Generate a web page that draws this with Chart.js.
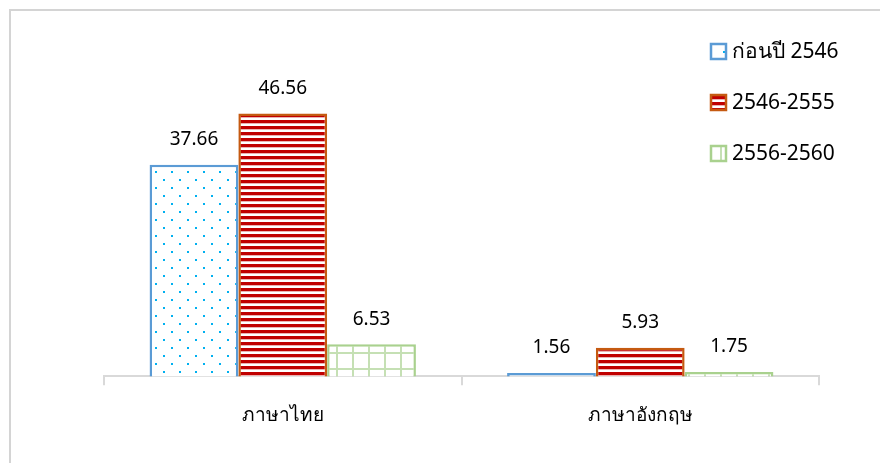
<!DOCTYPE html>
<html><head><meta charset="utf-8">
<script src="https://cdn.jsdelivr.net/npm/chart.js@4.4.1/dist/chart.umd.min.js"></script>
<style>
html,body{margin:0;padding:0;background:#fff;width:880px;height:463px;overflow:hidden;}
#frame{position:absolute;left:9px;top:9px;width:900px;height:500px;border-left:2px solid #d4d4d4;border-top:2px solid #d4d4d4;box-sizing:border-box;}
#wrap{position:absolute;left:0;top:0;width:880px;height:463px;}
</style></head>
<body>
<div id="frame"></div>
<div id="wrap"><canvas id="c" width="880" height="463"></canvas></div>
<script>
const categories = ["ภาษาไทย", "ภาษาอังกฤษ"];
const seriesNames = ["ก่อนปี 2546", "2546-2555", "2556-2560"];
const before2546 = [37.66, 1.56];
const y2546to2555 = [46.56, 5.93];
const y2556to2560 = [6.53, 1.75];

const FONT = "'Noto Sans', 'Open Sans', sans-serif";

function makePattern(kind){
  const t = document.createElement('canvas');
  const g = t.getContext('2d');
  if(kind==='dots'){
    t.width=16; t.height=16;
    g.fillStyle='#fff'; g.fillRect(0,0,16,16);
    g.fillStyle='#00B0F0';
    g.fillRect(3,3,2,2); g.fillRect(11,11,2,2);
  } else if(kind==='stripes'){
    t.width=6; t.height=6;
    g.fillStyle='#fff'; g.fillRect(0,0,6,6);
    g.fillStyle='#C00000'; g.fillRect(0,0,6,3.3);
  } else {
    t.width=16; t.height=16;
    g.fillStyle='#fff'; g.fillRect(0,0,16,16);
    g.fillStyle='#C5E0B4';
    g.fillRect(0,0,2,16); g.fillRect(0,0,16,2);
  }
  return g.createPattern(t,'repeat');
}

const ctx = document.getElementById('c').getContext('2d');
const patterns = [makePattern('dots'), makePattern('stripes'), makePattern('grid')];
const borders = ['#5B9BD5', '#C55A11', '#A9D18E'];
const seriesData = [before2546, y2546to2555, y2556to2560];

const valueLabels = {
  id:'valueLabels',
  afterDatasetsDraw(chart){
    const c = chart.ctx;
    c.save();
    c.font = "19px " + FONT;
    c.fillStyle = '#000';
    c.textAlign = 'center';
    c.textBaseline = 'middle';
    chart.data.datasets.forEach((ds,i)=>{
      chart.getDatasetMeta(i).data.forEach((bar,j)=>{
        c.fillText(ds.data[j].toFixed(2), bar.x, bar.y - 25);
      });
    });
    c.restore();
  }
};

const customLegend = {
  id:'customLegend',
  afterDraw(chart){
    const c = chart.ctx;
    c.save();
    c.font = "21px " + FONT;
    c.textBaseline = 'middle';
    c.textAlign = 'left';
    const x0 = 710, ys = [52, 103, 154];
    chart.data.datasets.forEach((ds,i)=>{
      const y = ys[i];
      c.fillStyle = ds.backgroundColor;
      c.fillRect(x0, y-9, 17, 17);
      c.strokeStyle = ds.borderColor;
      c.lineWidth = 2.5;
      c.strokeRect(x0+1, y-8, 15, 15);
      c.fillStyle = '#000';
      c.fillText(ds.label, x0+22, y);
    });
    c.restore();
  }
};

new Chart(ctx, {
  type:'bar',
  data:{
    labels: categories,
    datasets: seriesNames.map((n,i)=>({
      label:n,
      data: seriesData[i],
      backgroundColor: patterns[i],
      borderColor: borders[i],
      borderWidth: 2.5,
      borderSkipped: 'bottom',
      categoryPercentage: 0.745,
      barPercentage: 1.0
    }))
  },
  options:{
    responsive:false,
    animation:false,
    devicePixelRatio:1,
    layout:{padding:{left:104, right:61, top:36, bottom:17}},
    plugins:{legend:{display:false}, tooltip:{enabled:false}},
    scales:{
      x:{
        offset:true,
        grid:{display:true, drawOnChartArea:false, drawTicks:true, tickLength:9, color:'#D9D9D9', offset:true, lineWidth:2},
        border:{display:true, color:'#D9D9D9', width:2},
        ticks:{color:'#000', font:{family:FONT, size:19}, padding:19}
      },
      y:{display:false, min:1, max:60}
    }
  },
  plugins:[valueLabels, customLegend]
});
</script>
</body></html>
